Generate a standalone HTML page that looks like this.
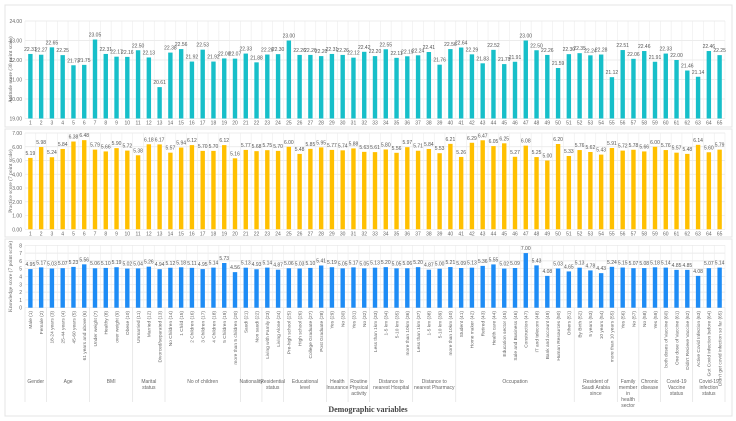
<!DOCTYPE html>
<html><head><meta charset="utf-8"><style>
html,body{margin:0;padding:0;background:#fff;}
svg{display:block;font-family:"Liberation Sans",sans-serif;}
</style></head><body>
<svg id="chart" width="736" height="421" viewBox="0 0 736 421"></svg>
<script>
const categories = ["Male (1)","Female (2)","18-24 years (3)","25-44 years (4)","45-60 years (5)","61 years and above (6)","Under weight (7)","Healthy (8)","over weight (9)","Obese (10)","Unmarried (11)","Married (12)","Divorced/separated (13)","No Children (14)","1 Child (15)","2 Children (16)","3 Children (17)","4 Children (18)","5 Children (19)","more than 5 children (20)","Saudi (21)","Non saudi (22)","Living with Family (23)","Living Alone (24)","Pre-high school (25)","High school (26)","College Graduate (27)","Post Graduate (28)","Yes (29)","No (30)","Yes (31)","No (32)","Less than 1km (33)","1-5 km (34)","5-10 km (35)","more than 10km (36)","Less than 1km (37)","1-5 km (38)","5-10 km (39)","more than 10km (40)","Student (41)","Home maker (42)","Retired (43)","Health care (44)","Education sector (45)","Sale and Business (46)","Construction (47)","IT and telecom (48)","Bank and account (49)","Human Resources (50)","Others (51)","By Birth (52)","5 years (53)","10 years (54)","more than 10 years (55)","Yes (56)","No (57)","No (58)","Yes (59)","both doses of Vaccine (60)","One dose of Vaccine (61)","Didn't Recieve Vaccine (62)","Active Covid Infection (63)","Got Covid infection before (64)","Didn't get covid infection so far (65)"];
const attitude = [22.31,22.27,22.65,22.25,21.73,21.75,23.05,22.31,22.17,22.16,22.50,22.13,20.61,22.38,22.56,21.92,22.53,21.92,22.08,22.07,22.33,21.88,22.28,22.30,23.00,22.26,22.26,22.20,22.31,22.26,22.12,22.42,22.20,22.55,22.11,22.19,22.24,22.41,21.76,22.56,22.64,22.29,21.83,22.52,21.79,21.91,23.00,22.50,22.26,21.59,22.30,22.35,22.24,22.28,21.12,22.51,22.06,22.46,21.91,22.33,22.00,21.46,21.14,22.46,22.25];
const practice = [5.19,5.98,5.24,5.84,6.38,6.48,5.79,5.66,5.90,5.72,5.38,6.18,6.17,5.57,5.94,6.12,5.70,5.70,6.12,5.16,5.77,5.68,5.75,5.70,6.00,5.48,5.85,5.95,5.77,5.74,5.88,5.63,5.61,5.80,5.56,5.97,5.71,5.84,5.53,6.21,5.26,6.29,6.47,6.05,6.25,5.27,6.08,5.25,5.00,6.20,5.33,5.76,5.62,5.43,5.91,5.72,5.78,5.66,6.00,5.76,5.57,5.48,6.14,5.60,5.79];
const knowledge = [4.95,5.17,5.03,5.07,5.23,5.56,5.06,5.10,5.19,5.02,5.04,5.26,4.94,5.12,5.18,5.11,4.95,5.14,5.73,4.56,5.13,4.93,5.14,4.87,5.06,5.03,5.10,5.41,5.19,5.05,5.17,5.05,5.13,5.20,5.05,5.06,5.20,4.87,5.00,5.21,5.09,5.13,5.36,5.55,5.02,5.09,7.00,5.43,4.08,5.03,4.65,5.13,4.78,4.43,5.24,5.15,5.07,5.08,5.18,5.14,4.85,4.85,4.08,5.07,5.14];
const groupNames = ["Gender","Age","BMI","Marital status","No of children","Nationality","Residential status","Educational level","Health Insurance","Routine Physical activity","Distance to nearest Hospital","Distance to nearest Pharmacy","Occupation","Resident of Saudi Arabia since","Family member in health sector","Chronic disease","Covid-19 Vaccine status","Covid-19 infection status"];
const groupSizes = [2,4,4,3,7,2,2,4,2,2,4,4,11,4,2,2,3,3];
const attTicks = [19,20,21,22,23,24];
const pracTicks = [0,1,2,3,4,5,6,7];
const knowTicks = [0,1,2,3,4,5,6,7,8];

const NS="http://www.w3.org/2000/svg";
const svg=document.getElementById('chart');
function mk(tag,attrs,parent){const e=document.createElementNS(NS,tag);for(const k in attrs)e.setAttribute(k,attrs[k]);(parent||svg).appendChild(e);return e;}
const X0=25, X1=725, N=categories.length, BW=(X1-X0)/N;
function xc(i){return X0+BW*(i+0.5);}

let t=mk('text',{x:368,y:14,'text-anchor':'middle','font-size':10,'font-weight':'bold',fill:'#666'});
t.textContent='Knowledge, attitude and practice scores against demographic variables';



function panel(name,top,bot,y0,y1,vmin,vmax,ticks,vals,color,ytitle,showNums,fmt){
  const bx=mk('rect',{x:5,y:top,width:727,height:bot-top,fill:'#fff',stroke:'#e4e4e4','stroke-width':1});
  
  
  const ys=v=>y1-(v-vmin)/(vmax-vmin)*(y1-y0);
  ticks.forEach(tv=>{
    mk('line',{x1:X0,x2:X1,y1:ys(tv),y2:ys(tv),stroke:'#e6e6e6','stroke-width':0.7});
    const tl=mk('text',{x:X0-3,y:ys(tv)+2,'text-anchor':'end','font-size':5,fill:'#666'});
    tl.textContent=fmt(tv);
    
    
  });
  for(let i=0;i<=N;i++) mk('line',{x1:X0+BW*i,x2:X0+BW*i,y1:y0,y2:y1,stroke:'#ececec','stroke-width':0.6});
  vals.forEach((v,i)=>{
    const r=mk('rect',{x:xc(i)-2.2,y:ys(v),width:4.4,height:y1-ys(v),fill:color});
    
    
    const l=mk('text',{x:xc(i),y:ys(v)-3,'text-anchor':'middle','font-size':5,fill:'#555'});
    l.textContent=v.toFixed(2);
    
    
    if(showNums){
      const n=mk('text',{x:xc(i),y:y1+6,'text-anchor':'middle','font-size':5,fill:'#666'});
      n.textContent=String(i+1);
      
      
    }
  });
  const cy=(y0+y1)/2;
  const yt=mk('text',{x:12,y:cy,'text-anchor':'middle','font-size':5.5,fill:'#666','font-family':'"Liberation Serif",serif',transform:'rotate(-90 12 '+cy+')'});
  yt.textContent=ytitle;
  
  
}
panel('attitude',5,127,21,118.5,19,24,attTicks,attitude,'#17BFC9','Attitude score (30 point scale)',true,v=>v.toFixed(2));
panel('practice',129,237,133,229.3,0,7,pracTicks,practice,'#FFC000','Practice score (7 point scale)',true,v=>v.toFixed(2));
panel('knowledge',239,416,245.3,307.7,0,8,knowTicks,knowledge,'#1E8CF5','Knowledge score (7 point scale)',false,v=>String(v));

// category labels
categories.forEach((c,i)=>{
  const x=xc(i)+1.8, y=311;
  const l=mk('text',{x:x,y:y,'text-anchor':'end','font-size':4.8,fill:'#666',transform:'rotate(-90 '+x+' '+y+')'});
  l.textContent=c;
  
  
});
// groups
let start=0;
mk('line',{x1:X0,x2:X0,y1:307.7,y2:402,stroke:'#e0e0e0','stroke-width':0.7});
groupSizes.forEach((s,g)=>{
  const xa=X0+BW*start, xb=X0+BW*(start+s);
  mk('line',{x1:xb,x2:xb,y1:307.7,y2:402,stroke:'#e0e0e0','stroke-width':0.7});
  const w=xb-xa;
  const words=groupNames[g].split(' ');
  const lines=[];let cur='';
  const maxc=Math.max(6,Math.floor(w/2.6));
  words.forEach(wd=>{if(cur&&(cur+' '+wd).length>maxc){lines.push(cur);cur=wd;}else cur=cur?cur+' '+wd:wd;});
  lines.push(cur);
  const gt=mk('text',{x:(xa+xb)/2,y:383,'text-anchor':'middle','font-size':5,fill:'#666'});
  
  
  lines.forEach((ln,k)=>{const ts=mk('tspan',{x:(xa+xb)/2,dy:k?6:0},gt);ts.textContent=ln;});
  start+=s;
});
const xt=mk('text',{x:368,y:412,'text-anchor':'middle','font-size':8,'font-weight':'bold',fill:'#444','font-family':'"Liberation Serif",serif'});
xt.textContent='Demographic variables';


</script>
</body></html>
